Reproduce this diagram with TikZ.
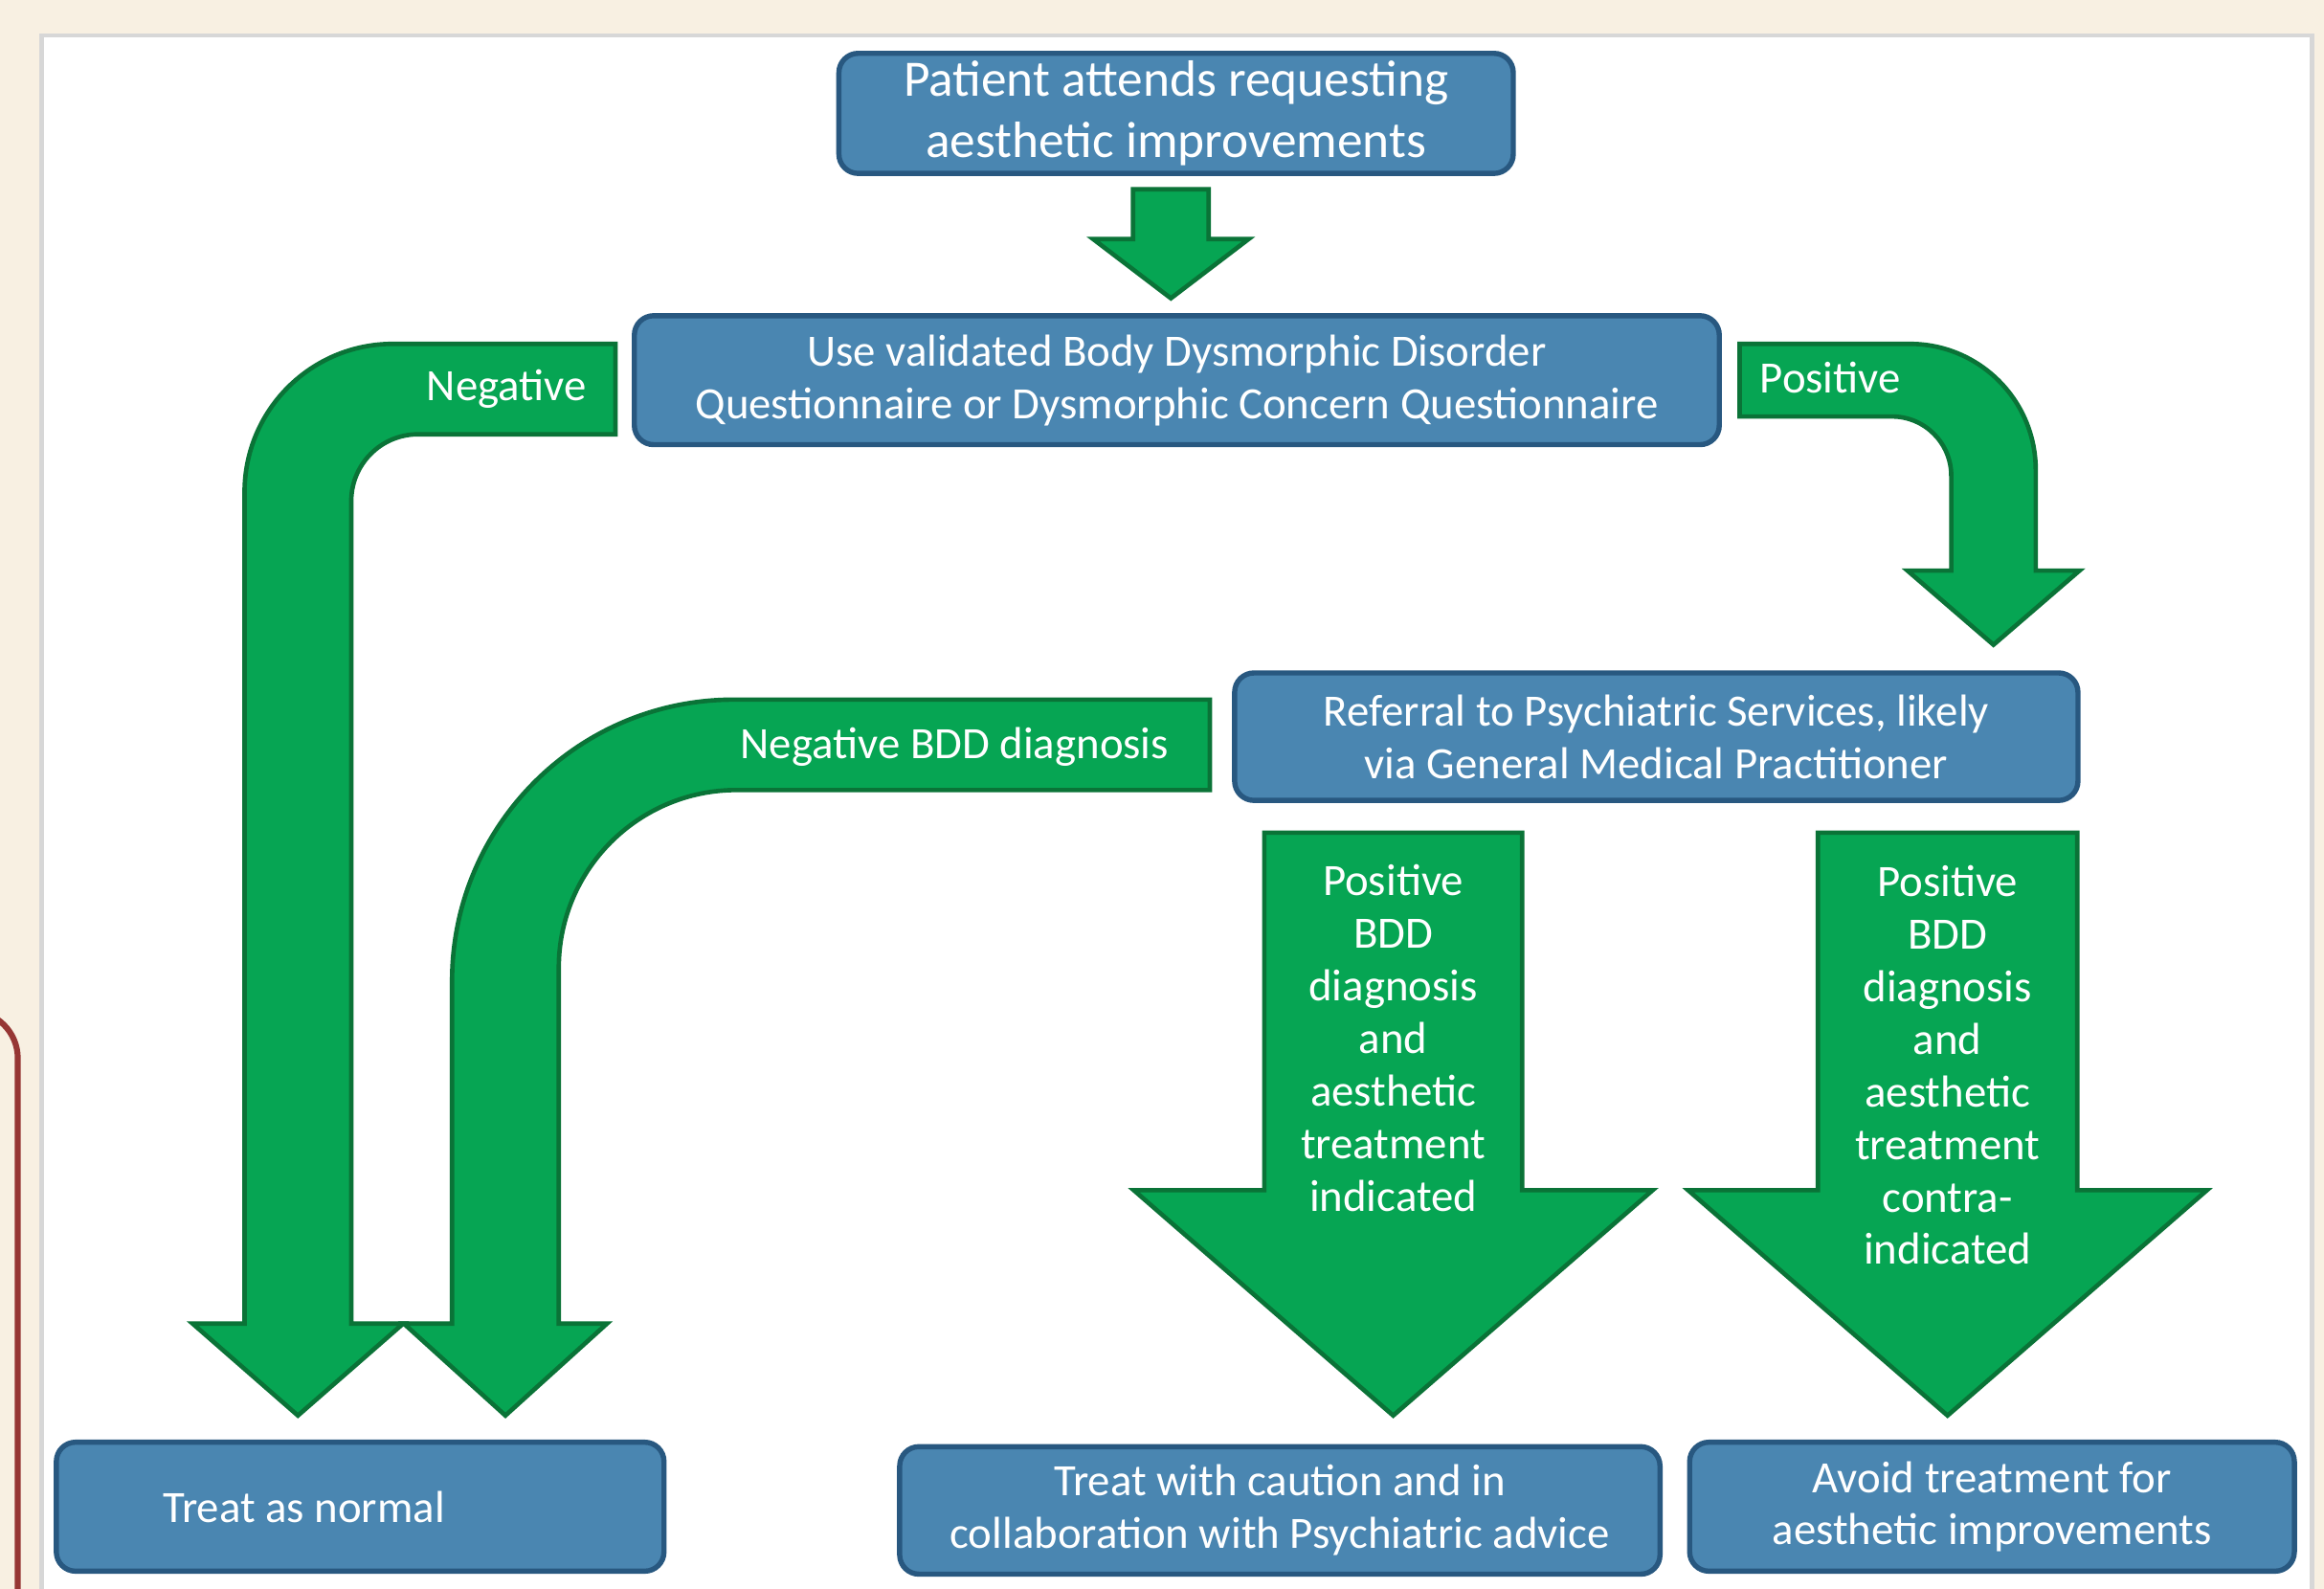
\documentclass[tikz,border=0pt]{standalone}
\usepackage{fontspec}
\newfontfamily\chartfont{Carlito}
\usetikzlibrary{calc}
\definecolor{pagebeige}{RGB}{248,240,226}
\definecolor{boxblue}{RGB}{74,134,177}
\definecolor{boxedge}{RGB}{40,88,128}
\definecolor{flowgreen}{RGB}{6,165,83}
\definecolor{flowedge}{RGB}{10,115,55}
\definecolor{framered}{RGB}{150,54,52}
\definecolor{panelgray}{RGB}{215,215,215}
\newcommand{\chartsmall}{\chartfont\fontsize{8.6}{10.1}\selectfont}
\newcommand{\chartbig}{\chartfont\fontsize{9.8}{11.7}\selectfont}

\newcommand{\blockdown}[5]{%
  \filldraw[flow] let \p1=#1, \p2=#2 in
    (\x2-#3,\y1) -- (\x2+#3,\y1) -- (\x2+#3,\y2+#5) -- (\x2+#4,\y2+#5)
    -- (\x2,\y2) -- (\x2-#4,\y2+#5) -- (\x2-#3,\y2+#5) -- cycle;}
\newcommand{\bendleft}[8]{%
  \filldraw[flow] let \p1=#1, \p2=#2 in
    (\x1,\y1+#3) -- (\x2-#4+#7,\y1+#3) arc[start angle=90, end angle=180, radius=#7]
    -- (\x2-#4,\y2+#6) -- (\x2-#5,\y2+#6) -- (\x2,\y2) -- (\x2+#5,\y2+#6) -- (\x2+#4,\y2+#6)
    -- (\x2+#4,\y1-#3-#8) arc[start angle=180, end angle=90, radius=#8]
    -- (\x1,\y1-#3) -- cycle;}
\newcommand{\bendright}[8]{%
  \filldraw[flow] let \p1=#1, \p2=#2 in
    (\x1,\y1+#3) -- (\x2+#4-#7,\y1+#3) arc[start angle=90, end angle=0, radius=#7]
    -- (\x2+#4,\y2+#6) -- (\x2+#5,\y2+#6) -- (\x2,\y2) -- (\x2-#5,\y2+#6) -- (\x2-#4,\y2+#6)
    -- (\x2-#4,\y1-#3-#8) arc[start angle=0, end angle=90, radius=#8]
    -- (\x1,\y1-#3) -- cycle;}

\begin{document}
\begin{tikzpicture}[x=0.1mm, y=0.1mm,
    box/.style={rectangle, rounded corners=1.3mm, draw=boxedge, line width=0.35mm,
        fill=boxblue, text=white, align=center, inner sep=0pt, font=\chartsmall},
    flow/.style={fill=flowgreen, draw=flowedge, line width=0.3mm},
    flowtext/.style={text=white, align=center, inner sep=0pt, font=\chartsmall}]
\useasboundingbox (0,0) rectangle (1568,1072);
\clip (0,0) rectangle (1568,1072);
\fill[pagebeige] (0,0) rectangle (1568,1072);
\filldraw[fill=white, draw=panelgray, line width=0.3mm] (28,-10) rectangle (1560,1048);
\draw[framered, line width=0.4mm] (-20,390) arc[start angle=90, end angle=0, radius=3.2mm] -- (12,-10);

\node[box, font=\chartbig, minimum width=45.5mm, minimum height=8.1mm] (top) at (793.5,995.5) {Patient attends requesting\\aesthetic improvements};
\node[box, minimum width=73.2mm, minimum height=8.7mm] (bdq) at (794,815.5) {Use validated Body Dysmorphic Disorder\\Questionnaire or Dysmorphic Concern Questionnaire};
\node[box, minimum width=56.9mm, minimum height=8.6mm] (ref) at (1117.5,575) {Referral to Psychiatric Services, likely\\via General Medical Practitioner};
\node[box, minimum width=41mm, minimum height=8.7mm, text width=26.6mm, align=flush left, inner xsep=7.2mm] (normal) at (243,55.5) {Treat as normal};
\node[box, minimum width=51.3mm, minimum height=8.6mm] (caution) at (863.5,53) {Treat with caution and in\\collaboration with Psychiatric advice};
\node[box, minimum width=40.8mm, minimum height=8.7mm] (avoid) at (1344,55.5) {Avoid treatment for\\aesthetic improvements};

\coordinate (tipneg) at (201,117);
\coordinate (tipnbdd) at (341,117);
\coordinate (tippos) at (1345,637);
\coordinate (tipind) at (940,117);
\coordinate (tipcontra) at (1314,117);

\blockdown{($(top.south)+(0,-9)$)}{($(bdq.north)+(-4,10)$)}{2.55mm}{5.25mm}{4mm}
\blockdown{($(ref.south)+(0,-20)$)}{(tipind)}{8.7mm}{17.5mm}{15.2mm}
\blockdown{($(ref.south)+(0,-20)$)}{(tipcontra)}{8.75mm}{17.5mm}{15.2mm}
\bendleft{($(bdq.west)+(-11,-6)$)}{(tipneg)}{3.05mm}{3.6mm}{7.1mm}{6.2mm}{10mm}{4.5mm}
\bendleft{($(ref.west)+(-15,-5.5)$)}{(tipnbdd)}{3.05mm}{3.6mm}{6.85mm}{6.2mm}{19mm}{12mm}
\bendright{($(bdq.east)+(12,0)$)}{(tippos)}{2.45mm}{2.85mm}{5.8mm}{5mm}{8.5mm}{4mm}

\node[flowtext, anchor=east] (lneg) at ($(bdq.west)+(-30,-6)$) {Negative};
\node[flowtext, anchor=west] (lpos) at ($(bdq.east)+(25,1.5)$) {Positive};
\node[flowtext, anchor=east] (lnbdd) at ($(ref.west)+(-42,-7)$) {Negative BDD diagnosis};
\node[flowtext] (lind) at (940,371.5) {Positive\\BDD\\diagnosis\\and\\aesthetic\\treatment\\indicated};
\node[flowtext] (lcontra) at (1314,353.5) {Positive\\BDD\\diagnosis\\and\\aesthetic\\treatment\\contra-\\indicated};
\end{tikzpicture}
\end{document}
